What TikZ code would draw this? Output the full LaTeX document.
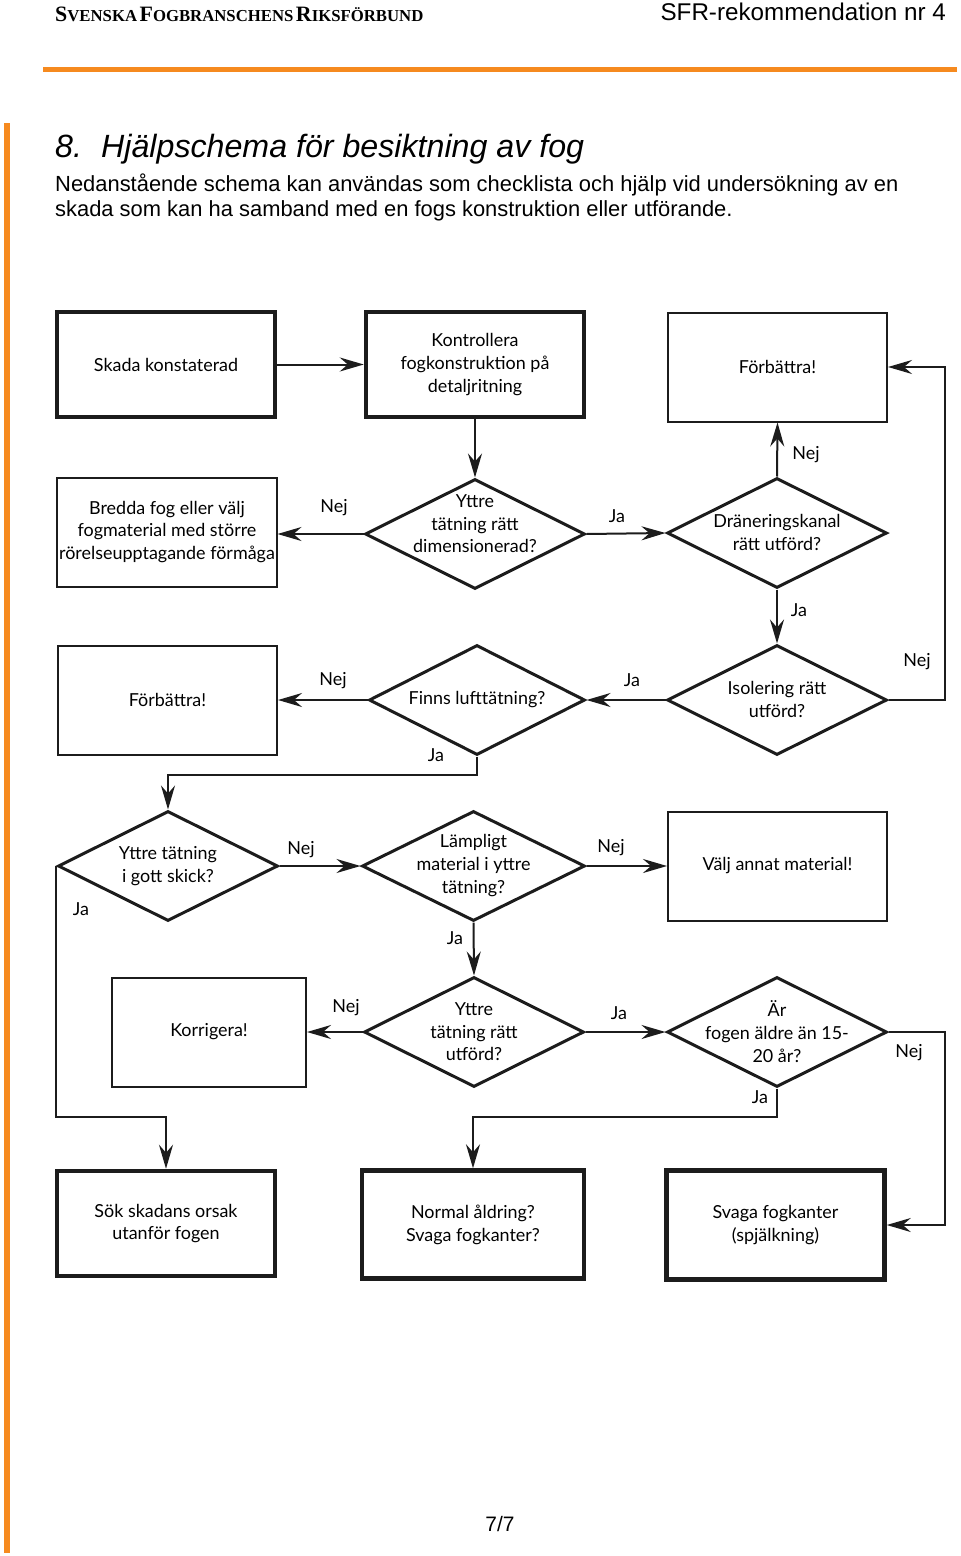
\documentclass[tikz,border=0pt]{standalone}
\usepackage{fontspec}
\setmainfont{Liberation Sans}
\newfontfamily\chartfont{Lato}
\newfontfamily\headserif{Liberation Serif}
\usetikzlibrary{arrows.meta,shapes.geometric}
\definecolor{Orange}{HTML}{F68A1F}
\definecolor{Ink}{HTML}{1C1C1C}
\tikzset{
  box/.style={draw=Ink,line width=2bp,minimum width=219bp,minimum height=109bp,
    inner sep=0bp,align=center,font=\chartfont\fontsize{18}{23}\selectfont},
  thickbox/.style={box,line width=4.5bp,minimum width=218bp,minimum height=105bp},
  decision/.style={draw=Ink,diamond,aspect=2,line width=3bp,minimum width=220bp,
    minimum height=110bp,inner sep=0bp,font=\chartfont\fontsize{18}{23}\selectfont},
  flow/.style={draw=Ink,line width=2bp,-{Stealth[length=24bp,width=14bp,inset=8bp]}},
  answer/.style={font=\chartfont\fontsize{18}{18}\selectfont,inner sep=0bp},
}
\newcommand{\hdrword}[2]{{\fontsize{22}{22}\selectfont #1}{\fontsize{16.8}{16.8}\selectfont #2}}
\newcommand{\question}[2][-4bp]{\smash{\raisebox{#1}{\parbox[c]{200bp}{\centering #2}}}}

\begin{document}
\begin{tikzpicture}[x=1bp,y=-1bp]
  \path[use as bounding box] (0,0) rectangle (960,1556);
  \fill[white] (0,0) rectangle (960,1556);

  % page head
  \node[anchor=base west,inner sep=0bp] (org) at (55,22)
    {\headserif\bfseries\hdrword{S}{VENSKA} \hdrword{F}{OGBRANSCHENS} \hdrword{R}{IKSFÖRBUND}};
  \node[anchor=base east,inner sep=0bp,font=\fontsize{24.3}{24.3}\selectfont] (docno) at (946,21)
    {SFR-rekommendation nr 4};
  \draw[Orange,line width=5bp] (43,70) -- (957,70);
  \fill[Orange] (4,123) rectangle (10,1553);
  \node[anchor=base west,inner sep=0bp,font=\itshape\fontsize{32.3}{32.3}\selectfont] (secno) at (55,157) {8.};
  \node[anchor=base west,inner sep=0bp,font=\itshape\fontsize{32.3}{32.3}\selectfont] (title) at (101,157)
    {Hjälpschema för besiktning av fog};
  \node[anchor=base west,inner sep=0bp,font=\fontsize{22}{22}\selectfont] (intro1) at (55,191)
    {Nedanstående schema kan användas som checklista och hjälp vid undersökning av en};
  \node[anchor=base west,inner sep=0bp,font=\fontsize{22}{22}\selectfont] (intro2) at (55,216)
    {skada som kan ha samband med en fogs konstruktion eller utförande.};
  \node[anchor=base,inner sep=0bp,font=\fontsize{21}{21}\selectfont] (pageno) at (500,1531) {7/7};

  % boxes
  \node[thickbox] (skada) at (166,364.5) {Skada konstaterad};
  \node[thickbox] (kontroll) at (475,364.5) {Kontrollera\\fogkonstruktion på\\detaljritning};
  \node[box] (forb1) at (777.5,367) {Förbättra!};
  \node[box] (bredda) at (167,532) {Bredda fog eller välj\\fogmaterial med större\\rörelseupptagande förmåga};
  \node[box] (forb2) at (167.5,700) {Förbättra!};
  \node[box] (valj) at (777.5,866) {Välj annat material!};
  \node[box,minimum width=194bp] (korr) at (209,1032) {Korrigera!};
  \node[thickbox] (sok) at (166,1223.5) {Sök skadans orsak\\utanför fogen};
  \node[thickbox,minimum width=222bp,minimum height=108bp] (normal) at (473,1224.5) {Normal åldring?\\Svaga fogkanter?};
  \node[thickbox,minimum height=109bp] (svaga) at (775.5,1225) {Svaga fogkanter\\(spjälkning)};

  % decisions
  \node[decision] (dim) at (475,534) {\question[6bp]{Yttre\\tätning rätt\\dimensionerad?}};
  \node[decision] (dran) at (777,533) {\question{Dräneringskanal\\rätt utförd?}};
  \node[decision] (isol) at (777,700) {\question{Isolering rätt\\utförd?}};
  \node[decision,minimum width=216bp] (luft) at (477,700) {\question{Finns lufttätning?}};
  \node[decision] (skick) at (168,866) {\question{Yttre tätning\\i gott skick?}};
  \node[decision,minimum width=223bp] (mat) at (473.5,866) {\question{Lämpligt\\material i yttre\\tätning?}};
  \node[decision] (utf) at (474,1032) {\question{Yttre\\tätning rätt\\utförd?}};
  \node[decision] (alder) at (777,1032) {\question{Är\\fogen äldre än 15-\\20 år?}};

  \coordinate (rail) at (945,0);

  % connectors
  \draw[flow] (skada) -- (kontroll);
  \draw[flow] (kontroll.south) -- (dim.north);
  \draw[flow] (dim.west) -- (dim.west -| bredda.east);
  \draw[flow] (dim.east) -- (dran.west);
  \draw[flow] (dran.north) -- (forb1.south);
  \draw[flow] (dran.south) -- (isol.north);
  \draw[flow] (isol.east) -| (rail |- forb1.east) -- (forb1.east);
  \draw[flow] (isol.west) -- (luft.east);
  \draw[flow] (luft.west) -- (luft.west -| forb2.east);
  \draw[flow] (luft.south) -- ++(0,18) -| (skick.north);
  \draw[flow] (skick.east) -- (mat.west);
  \draw[flow] (mat.east) -- (mat.east -| valj.west);
  \draw[flow] (mat.south) -- (utf.north);
  \draw[flow] (skick.west) -- ++(0,251) -| (sok.north);
  \draw[flow] (utf.west) -- (korr.east);
  \draw[flow] (utf.east) -- (alder.west);
  \draw[flow] (alder.south) -- ++(0,28) -| (normal.north);
  \draw[flow] (alder.east) -| (rail |- svaga.east) -- (svaga.east);

  % answers
  \node[answer] (n1) at (334,508) {Nej};
  \node[answer] (j1) at (617,516) {Ja};
  \node[answer] (n2) at (806,455) {Nej};
  \node[answer] (j2) at (799,610) {Ja};
  \node[answer] (n3) at (917,662) {Nej};
  \node[answer] (j3) at (632,680) {Ja};
  \node[answer] (n4) at (333,681) {Nej};
  \node[answer] (j4) at (436,755) {Ja};
  \node[answer] (n5) at (301,850) {Nej};
  \node[answer] (n6) at (611,848) {Nej};
  \node[answer] (j5) at (455,938) {Ja};
  \node[answer] (j6) at (81,909) {Ja};
  \node[answer] (n7) at (346,1008) {Nej};
  \node[answer] (j7) at (619,1013) {Ja};
  \node[answer] (j8) at (760,1097) {Ja};
  \node[answer] (n8) at (909,1053) {Nej};
\end{tikzpicture}
\end{document}
